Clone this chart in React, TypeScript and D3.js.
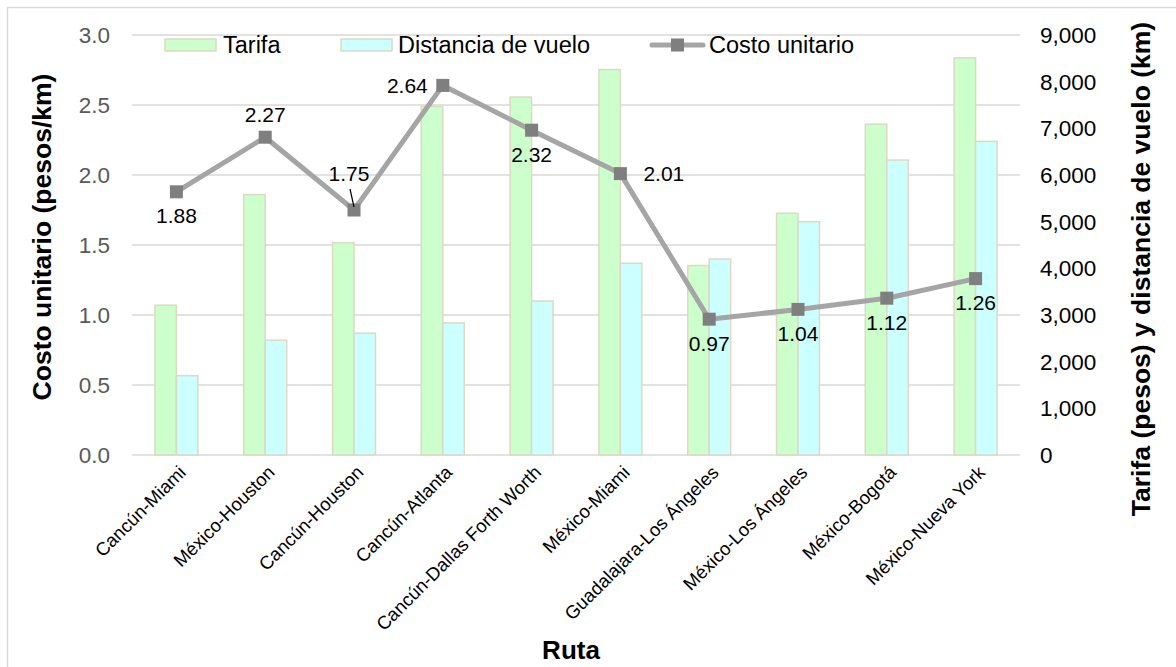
import React from "react";
import * as d3 from "d3";

const categories = [
  "Cancún-Miami",
  "México-Houston",
  "Cancún-Houston",
  "Cancún-Atlanta",
  "Cancún-Dallas Forth Worth",
  "México-Miami",
  "Guadalajara-Los Ángeles",
  "México-Los Ángeles",
  "México-Bogotá",
  "México-Nueva York",
];
const tarifa = [3210, 5580, 4550, 7470, 7670, 8260, 4060, 5180, 7090, 8510];
const distancia = [1700, 2460, 2610, 2830, 3300, 4110, 4200, 5000, 6320, 6720];
const costo = [1.88, 2.27, 1.75, 2.64, 2.32, 2.01, 0.97, 1.04, 1.12, 1.26];
// label placement for each cost label
const labelPos = ["below", "above", "leader", "left", "below", "right", "below", "below", "below", "below"];
const leftTicks = [0, 0.5, 1.0, 1.5, 2.0, 2.5, 3.0];
const rightTicks = [0, 1000, 2000, 3000, 4000, 5000, 6000, 7000, 8000, 9000];

const W = 1176;
const H = 667;
const M = { left: 132, right: 1020, top: 35, bottom: 455 };
const FONT = "'Liberation Sans', Arial, sans-serif";
const GREEN = "#ccffcc";
const CYAN = "#ccffff";
const BAR_STROKE = "#ddd9c3";
const LINE = "#a5a5a5";
const MARK = "#7f7f7f";

export default function App() {
  const x0 = d3
    .scaleBand<string>()
    .domain(categories)
    .range([M.left, M.right])
    .paddingInner(0.516)
    .paddingOuter(0.258);
  const x1 = d3.scaleBand<string>().domain(["t", "d"]).range([0, x0.bandwidth()]);
  const yL = d3.scaleLinear().domain([0, 3]).range([M.bottom, M.top]);
  const yR = d3.scaleLinear().domain([0, 9000]).range([M.bottom, M.top]);
  const cx = (c: string) => (x0(c) as number) + x0.bandwidth() / 2;

  const line = d3
    .line<number>()
    .x((_, i) => cx(categories[i]))
    .y((d) => yL(d));

  const fmt = d3.format(",");
  const LBL = 21;

  return (
    <svg
      width={W}
      height={H}
      style={{ position: "absolute", left: 0, top: 0, background: "#fff" }}
      fontFamily={FONT}
    >
      <rect x={7.5} y={7.5} width={1180} height={680} fill="#fff" stroke="#d9d9d9" strokeWidth={1.5} />
      {/* gridlines */}
      {leftTicks.map((t) => (
        <line key={t} x1={M.left} x2={M.right} y1={yL(t)} y2={yL(t)} stroke="#d9d9d9" strokeWidth={1.5} />
      ))}
      {/* left tick labels */}
      {leftTicks.map((t) => (
        <text key={"l" + t} x={110} y={yL(t)} dy="0.35em" textAnchor="end" fontSize={22.5} fill="#595959">
          {t.toFixed(1)}
        </text>
      ))}
      {/* right tick labels */}
      {rightTicks.map((t) => (
        <text key={"r" + t} x={1040} y={yR(t)} dy="0.35em" textAnchor="start" fontSize={22.5} fill="#000">
          {fmt(t)}
        </text>
      ))}
      {/* bars */}
      {categories.map((c, i) => (
        <g key={c}>
          <rect
            x={(x0(c) as number) + (x1("t") as number)}
            y={yR(tarifa[i])}
            width={x1.bandwidth()}
            height={yR(0) - yR(tarifa[i])}
            fill={GREEN}
            stroke={BAR_STROKE}
            strokeWidth={1.5}
          />
          <rect
            x={(x0(c) as number) + (x1("d") as number)}
            y={yR(distancia[i])}
            width={x1.bandwidth()}
            height={yR(0) - yR(distancia[i])}
            fill={CYAN}
            stroke={BAR_STROKE}
            strokeWidth={1.5}
          />
        </g>
      ))}
      {/* line */}
      <path d={line(costo) || ""} fill="none" stroke={LINE} strokeWidth={5} strokeLinejoin="round" />
      {costo.map((v, i) => (
        <rect key={"m" + i} x={cx(categories[i]) - 6.5} y={yL(v) - 6.5} width={13} height={13} fill={MARK} />
      ))}
      {/* data labels */}
      {costo.map((v, i) => {
        const px = cx(categories[i]);
        const py = yL(v);
        const pos = labelPos[i];
        const txt = v.toFixed(2);
        if (pos === "below")
          return (
            <text key={"t" + i} x={px} y={py + 24} dy="0.35em" textAnchor="middle" fontSize={LBL}>
              {txt}
            </text>
          );
        if (pos === "above")
          return (
            <text key={"t" + i} x={px} y={py - 23} dy="0.35em" textAnchor="middle" fontSize={LBL}>
              {txt}
            </text>
          );
        if (pos === "left")
          return (
            <text key={"t" + i} x={px - 15} y={py} dy="0.35em" textAnchor="end" fontSize={LBL}>
              {txt}
            </text>
          );
        if (pos === "right")
          return (
            <text key={"t" + i} x={px + 23} y={py} dy="0.35em" textAnchor="start" fontSize={LBL}>
              {txt}
            </text>
          );
        return (
          <g key={"t" + i}>
            <text x={px - 5} y={py - 36} dy="0.35em" textAnchor="middle" fontSize={LBL}>
              {txt}
            </text>
            <line x1={px - 4} y1={py - 21} x2={px} y2={py - 3} stroke="#000" strokeWidth={1.2} />
          </g>
        );
      })}
      {/* x labels */}
      {categories.map((c) => (
        <text
          key={"x" + c}
          transform={`translate(${cx(c) + 6},${M.bottom + 14}) rotate(-45)`}
          textAnchor="end"
          fontSize={18.5}
          dy="0.35em"
        >
          {c}
        </text>
      ))}
      {/* axis titles */}
      <text
        transform={`translate(42,237) rotate(-90)`}
        textAnchor="middle"
        dy="0.35em"
        fontSize={26.5}
        fontWeight="bold"
      >
        Costo unitario (pesos/km)
      </text>
      <text
        transform={`translate(1141,269) rotate(-90)`}
        textAnchor="middle"
        dy="0.35em"
        fontSize={26.5}
        fontWeight="bold"
      >
        Tarifa (pesos) y distancia de vuelo (km)
      </text>
      <text x={571} y={650} dy="0.35em" textAnchor="middle" fontSize={26} fontWeight="bold">
        Ruta
      </text>
      {/* legend */}
      <rect x={165} y={39} width={51} height={12} fill={GREEN} stroke={BAR_STROKE} strokeWidth={1.5} />
      <text x={223} y={45} dy="0.35em" fontSize={23.5}>
        Tarifa
      </text>
      <rect x={341} y={39} width={51} height={12} fill={CYAN} stroke={BAR_STROKE} strokeWidth={1.5} />
      <text x={398} y={45} dy="0.35em" fontSize={23.5}>
        Distancia de vuelo
      </text>
      <line x1={652} x2={703} y1={45} y2={45} stroke={LINE} strokeWidth={5} strokeLinecap="round" />
      <rect x={671} y={38.5} width={13} height={13} fill={MARK} />
      <text x={709} y={45} dy="0.35em" fontSize={23.5}>
        Costo unitario
      </text>
    </svg>
  );
}
